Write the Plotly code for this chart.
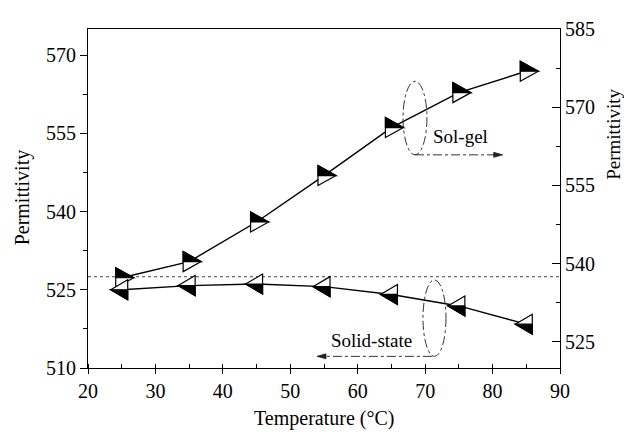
import plotly.graph_objects as go

# ---------------- data ----------------
temperature = [25, 35, 45, 55, 65, 75, 85]
solgel_perm = [537.3, 540.4, 548.0, 556.9, 566.1, 572.8, 576.9]      # right axis
solid_perm = [525.0, 525.8, 526.1, 525.6, 524.1, 521.9, 518.4]       # left axis
x_ticks = [20, 30, 40, 50, 60, 70, 80, 90]
left_ticks = [510, 525, 540, 555, 570]
right_ticks = [525, 540, 555, 570, 585]
ref_level = 527.5

FONT = "Liberation Serif, Times New Roman, serif"
fig = go.Figure()

fig.add_trace(go.Scatter(x=temperature, y=solid_perm, mode="lines",
                         line=dict(color="black", width=1.4), yaxis="y",
                         showlegend=False, hoverinfo="skip"))
fig.add_trace(go.Scatter(x=temperature, y=solgel_perm, mode="lines",
                         line=dict(color="black", width=1.4), yaxis="y2",
                         showlegend=False, hoverinfo="skip"))

shapes = []
# half-filled triangle markers, anchored at data points (pixel-sized)
for x, y in zip(temperature, solgel_perm):
    common = dict(type="path", xref="x", yref="y2", xsizemode="pixel", ysizemode="pixel",
                  xanchor=x, yanchor=y)
    shapes.append(dict(common, path="M -6,10 L 12,0 L -6,-10 Z", fillcolor="white",
                       line=dict(color="black", width=1.2)))
    shapes.append(dict(common, path="M -6,10 L 12,0 L -6,0 Z", fillcolor="black",
                       line=dict(color="black", width=1.2)))
for x, y in zip(temperature, solid_perm):
    common = dict(type="path", xref="x", yref="y", xsizemode="pixel", ysizemode="pixel",
                  xanchor=x, yanchor=y)
    shapes.append(dict(common, path="M 6,10 L -11,0 L 6,-10 Z", fillcolor="white",
                       line=dict(color="black", width=1.2)))
    shapes.append(dict(common, path="M 6,0 L -11,0 L 6,-10 Z", fillcolor="black",
                       line=dict(color="black", width=1.2)))

# dotted reference line
shapes.append(dict(type="line", xref="paper", x0=0, x1=1, yref="y", y0=ref_level, y1=ref_level,
                   line=dict(color="#444", width=1, dash="dot"), layer="below"))

# ellipses + arrows (annotation decorations)
dd = dict(color="#333", width=1, dash="dashdot")
shapes.append(dict(type="circle", xref="x", yref="y", x0=66.72, x1=70.27, y0=550.87, y1=564.98, line=dd))
shapes.append(dict(type="line", xref="x", yref="y", x0=68.5, x1=81.0, y0=550.87, y1=550.87, line=dd))
shapes.append(dict(type="path", xref="x", yref="y", xsizemode="pixel", ysizemode="pixel",
                   xanchor=81.5, yanchor=550.87, path="M -9,2.5 L 0,0 L -9,-2.5 Z",
                   fillcolor="#222", line=dict(color="#222", width=0.8)))
shapes.append(dict(type="circle", xref="x", yref="y", x0=69.68, x1=73.09, y0=512.23, y1=526.9, line=dd))
shapes.append(dict(type="line", xref="x", yref="y", x0=71.0, x1=54.5, y0=512.23, y1=512.23, line=dd))
shapes.append(dict(type="path", xref="x", yref="y", xsizemode="pixel", ysizemode="pixel",
                   xanchor=53.96, yanchor=512.23, path="M 9,2.5 L 0,0 L 9,-2.5 Z",
                   fillcolor="#222", line=dict(color="#222", width=0.8)))

annotations = [
    dict(text="Sol-gel", x=75.17, y=554.4, xref="x", yref="y", showarrow=False,
         font=dict(family=FONT, size=19, color="black")),
    dict(text="Solid-state", x=62.1, y=515.2, xref="x", yref="y", showarrow=False,
         font=dict(family=FONT, size=19, color="black")),
    dict(text="Temperature (°C)", x=0.5, y=-0.149, xref="paper", yref="paper", showarrow=False,
         xanchor="center", yanchor="middle", font=dict(family=FONT, size=20, color="black")),
    dict(text="Permittivity", x=-0.138, y=0.503, xref="paper", yref="paper", showarrow=False,
         textangle=-90, xanchor="center", yanchor="middle", font=dict(family=FONT, size=20, color="black")),
    dict(text="Permittivity", x=1.113, y=0.689, xref="paper", yref="paper", showarrow=False,
         textangle=-90, xanchor="center", yanchor="middle", font=dict(family=FONT, size=19, color="black")),
]

tickfont = dict(family=FONT, size=20, color="black")
# page body adds an 8px margin, so the figure is 8px smaller and margins shifted by 8px
fig.update_layout(
    width=624, height=424,
    margin=dict(l=80, r=72, t=10, b=64),
    paper_bgcolor="white", plot_bgcolor="white",
    showlegend=False,
    shapes=shapes, annotations=annotations,
    xaxis=dict(range=[20, 90], tickvals=x_ticks, ticks="outside", ticklen=5, tickwidth=1,
               tickcolor="black", showline=True, linecolor="black", linewidth=1.2,
               mirror=True, showgrid=False, zeroline=False, tickfont=tickfont,
               ticklabeloverflow="allow",
               minor=dict(dtick=5, ticks="inside", ticklen=4, tickcolor="black", showgrid=False)),
    yaxis=dict(range=[510, 575], tickvals=left_ticks, ticks="outside", ticklen=7, tickwidth=1,
               tickcolor="black", showline=True, linecolor="black", linewidth=1.2,
               showgrid=False, zeroline=False, tickfont=tickfont, ticklabeloverflow="allow",
               minor=dict(tick0=510, dtick=7.5, ticks="outside", ticklen=4, tickcolor="black", showgrid=False)),
    yaxis2=dict(range=[520, 585], tickvals=right_ticks, overlaying="y", side="right",
                ticks="inside", ticklen=8, tickwidth=1, tickcolor="black", showline=True,
                linecolor="black", linewidth=1.2, showgrid=False, zeroline=False, tickfont=tickfont,
                ticklabeloverflow="allow",
                minor=dict(tick0=525, dtick=7.5, ticks="inside", ticklen=4, tickcolor="black", showgrid=False)),
)

fig.write_html("out.html")
